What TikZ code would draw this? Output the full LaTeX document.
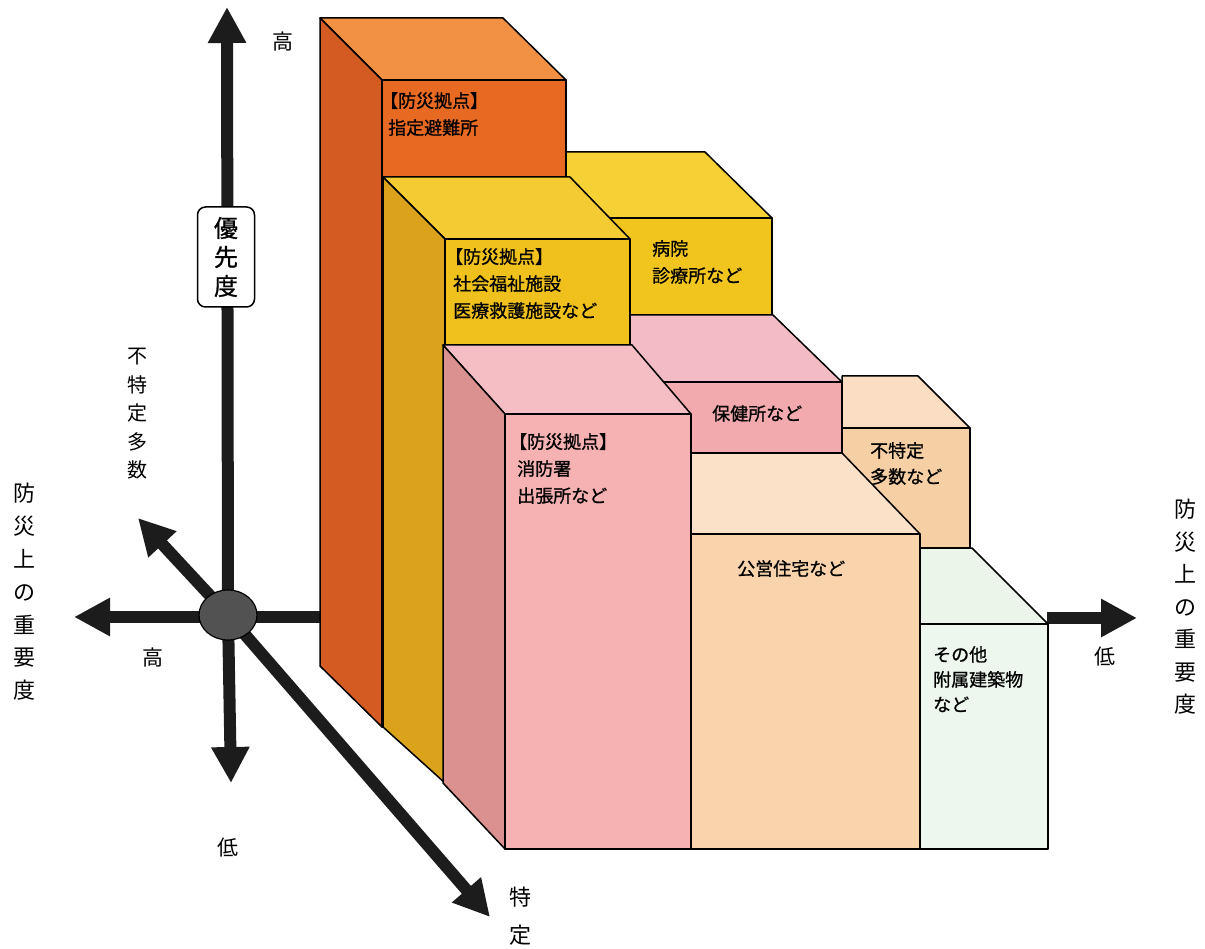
\documentclass[tikz,border=0pt]{standalone}
\usepackage{fontspec}
\setmainfont{Noto Sans CJK JP}
\newfontfamily\boxfont[FakeBold=0.9]{Noto Sans CJK JP}
\usetikzlibrary{arrows.meta,shapes.geometric}
\definecolor{orTop}{HTML}{F29043}
\definecolor{orFront}{HTML}{E86A22}
\definecolor{orSide}{HTML}{D45B22}
\definecolor{yeTop}{HTML}{F4CB33}
\definecolor{yeFront}{HTML}{F0C01C}
\definecolor{yeSide}{HTML}{DBA31C}
\definecolor{hoTop}{HTML}{F5D136}
\definecolor{hoFront}{HTML}{F2C51E}
\definecolor{piTop}{HTML}{F5BEC5}
\definecolor{piFront}{HTML}{F6B1B2}
\definecolor{piSide}{HTML}{DB9190}
\definecolor{hkTop}{HTML}{F3BCC4}
\definecolor{hkFront}{HTML}{F2AAAE}
\definecolor{fuTop}{HTML}{FADDC2}
\definecolor{fuFront}{HTML}{F6CFA5}
\definecolor{koTop}{HTML}{FBE1C8}
\definecolor{koFront}{HTML}{F9D3AC}
\definecolor{grTop}{HTML}{ECF5EA}
\definecolor{grFront}{HTML}{EEF7EE}
\definecolor{axisCol}{HTML}{1C1C1C}
\tikzset{
  face/.style={draw=black, line width=1.5pt, line join=round},
  axisline/.style={line width=12pt, draw=axisCol},
  axisarrow/.style={axisline, -{Triangle[length=36pt,width=36pt]}},
  boxlabel/.style={anchor=north west, inner sep=0pt, align=left, font=\boxfont\fontsize{18}{27}\selectfont},
  axislabel/.style={inner sep=0pt, font=\fontsize{21}{21}\selectfont},
}
\begin{document}
\begin{tikzpicture}[x=1pt,y=-1pt]
\useasboundingbox (0,0) rectangle (1205,949);
% axes
\coordinate (O) at (228,615);
\coordinate (upTip) at (227,7);
\coordinate (downTip) at (231,783);
\coordinate (leftTip) at (74,617);
\coordinate (axR) at (321,617);
\coordinate (nwTip) at (138,518);
\coordinate (seTip) at (490,917);
\coordinate (grCorner) at (1047,618);
\coordinate (rightTip) at (1137,618);
\draw[axisarrow] (O) -- (upTip);
\draw[axisarrow] (O) -- (downTip);
\draw[axisarrow] (O |- axR) -- (leftTip);
\draw[axisline] (O |- axR) -- (axR);
\draw[axisarrow] (O) -- (nwTip);
\draw[axisarrow] (O) -- (seTip);
\draw[axisarrow] (grCorner) -- (rightTip);
\node[ellipse, draw=black, line width=1.2pt, fill=black!68, minimum width=58pt, minimum height=50pt, inner sep=0pt] (hub) at (O) {};

% orange box
\fill[orTop, face] (320,18) -- (503,18) -- (566,80) -- (382,80) -- cycle;
\fill[orSide, face] (320,18) -- (382,80) -- (382,727) -- (320,666) -- cycle;
\fill[orFront, face] (382,80) -- (566,80) -- (566,727) -- (382,727) -- cycle;
% hospital box
\fill[hoTop, face] (566,152) -- (705,152) -- (772,218) -- (566,218) -- cycle;
\fill[hoFront, face] (566,218) -- (772,218) -- (772,315) -- (566,315) -- cycle;
% welfare box
\fill[yeTop, face] (383,177) -- (570,177) -- (630,239) -- (445,239) -- cycle;
\fill[yeSide, face] (383,177) -- (445,239) -- (445,783) -- (383,727) -- cycle;
\fill[yeFront, face] (445,239) -- (630,239) -- (630,783) -- (445,783) -- cycle;
% health center box
\fill[hkTop, face] (630,315) -- (773,315) -- (842,382) -- (630,382) -- cycle;
\fill[hkFront, face] (630,382) -- (842,382) -- (842,453) -- (630,453) -- cycle;
% fire station box
\fill[piTop, face] (443,345) -- (632,345) -- (691,414) -- (505,414) -- cycle;
\fill[piSide, face] (443,345) -- (505,414) -- (505,849) -- (443,783) -- cycle;
\fill[piFront, face] (505,414) -- (691,414) -- (691,849) -- (505,849) -- cycle;
% unspecified many box
\fill[fuTop, face] (842,376) -- (918,376) -- (970,428) -- (842,428) -- cycle;
\fill[fuFront, face] (842,428) -- (970,428) -- (970,548) -- (842,548) -- cycle;
% public housing box
\fill[koTop, face] (691,453) -- (842,453) -- (920,534) -- (691,534) -- cycle;
\fill[koFront, face] (691,534) -- (920,534) -- (920,849) -- (691,849) -- cycle;
% other box
\fill[grTop, face] (920,548) -- (972,548) -- (1048,624) -- (920,624) -- cycle;
\fill[grFront, face] (920,624) -- (1048,624) -- (1048,849) -- (920,849) -- cycle;

% priority label
\node[draw=black, fill=white, rounded corners=8pt, line width=1.5pt, minimum width=57pt, minimum height=100pt, align=center, inner sep=0pt, font=\boxfont\fontsize{24}{29}\selectfont] (prio) at (226,257) {優\\先\\度};

% axis labels
\node[axislabel] (hiTop) at (283,42) {高};
\node[axislabel] (hiLeft) at (153,658) {高};
\node[axislabel] (loBottom) at (228,848) {低};
\node[axislabel] (loRight) at (1105,657) {低};
\node[inner sep=0pt, align=center, font=\fontsize{20}{28.5}\selectfont] (fuAxis) at (137,414) {不\\特\\定\\多\\数};
\node[inner sep=0pt, align=center, font=\fontsize{22}{38}\selectfont] (tokAxis) at (520,916) {特\\定};
\node[inner sep=0pt, align=center, font=\fontsize{22}{32.8}\selectfont] (impL) at (24,592) {防\\災\\上\\の\\重\\要\\度};
\node[inner sep=0pt, align=center, font=\fontsize{22}{32.5}\selectfont] (impR) at (1185,607) {防\\災\\上\\の\\重\\要\\度};

% box labels
\node[boxlabel] (tShitei) at (388,92) {\hspace*{-0.45em}【防災拠点】\\指定避難所};
\node[boxlabel] (tFukushi) at (453,248) {\hspace*{-0.45em}【防災拠点】\\社会福祉施設\\医療救護施設など};
\node[boxlabel] (tByoin) at (652,240) {病院\\診療所など};
\node[boxlabel] (tShobo) at (517,433) {\hspace*{-0.45em}【防災拠点】\\消防署\\出張所など};
\node[boxlabel] (tHoken) at (712,405) {保健所など};
\node[boxlabel, font=\boxfont\fontsize{18}{26}\selectfont] (tFutoku) at (870,442) {不特定\\多数など};
\node[boxlabel] (tKoei) at (737,560) {公営住宅など};
\node[boxlabel, font=\boxfont\fontsize{18}{25}\selectfont] (tSonota) at (933,646) {その他\\附属建築物\\など};
\end{tikzpicture}
\end{document}
